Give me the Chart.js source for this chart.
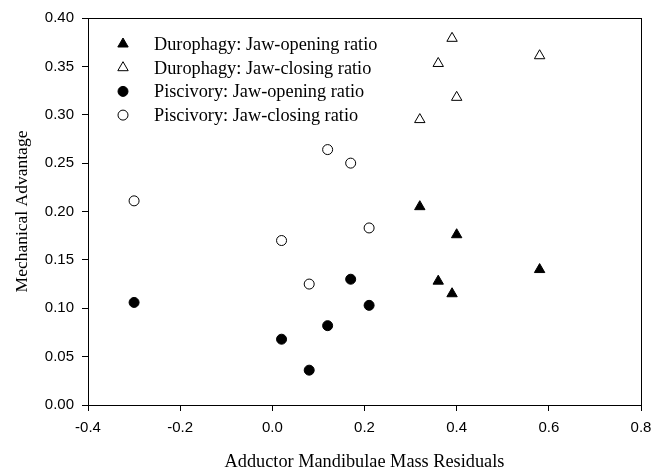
<!DOCTYPE html>
<html>
<head>
<meta charset="utf-8">
<script src="https://cdn.jsdelivr.net/npm/chart.js@4/dist/chart.umd.min.js"></script>
<style>
  html, body { margin: 0; padding: 0; background: #fff; }
</style>
</head>
<body>
<canvas id="chartScatter" width="662" height="471"></canvas>
<script>
  "use strict";

  var seriesNames = [
    "Durophagy: Jaw-opening ratio",
    "Durophagy: Jaw-closing ratio",
    "Piscivory: Jaw-opening ratio",
    "Piscivory: Jaw-closing ratio"
  ];

  var duroX = [0.32, 0.40, 0.36, 0.39, 0.58];
  var duroOpening = [0.205, 0.176, 0.128, 0.115, 0.140];
  var duroClosingX = [0.39, 0.36, 0.40, 0.32, 0.58];
  var duroClosing = [0.379, 0.353, 0.318, 0.295, 0.361];

  var pisciX = [-0.30, 0.02, 0.08, 0.12, 0.17, 0.21];
  var pisciOpening = [0.106, 0.068, 0.036, 0.082, 0.130, 0.103];
  var pisciClosing = [0.211, 0.170, 0.125, 0.264, 0.250, 0.183];

  function pairs(xs, ys) {
    return xs.map(function(x, i) { return { x: x, y: ys[i] }; });
  }

  // box around the plot area + legend inside it
  var boxAndLegend = {
    id: "boxAndLegend",
    afterDraw: function(chart) {
      var ctx = chart.ctx, a = chart.chartArea;
      ctx.save();
      ctx.strokeStyle = "#000";
      ctx.lineWidth = 1;
      ctx.strokeRect(Math.round(a.left) + 0.5, Math.round(a.top) + 0.5,
                     Math.round(a.right - a.left), Math.round(a.bottom - a.top));

      ctx.font = "18.3px 'Liberation Serif', 'Times New Roman', serif";
      ctx.textBaseline = "middle";
      chart.data.datasets.forEach(function(ds, i) {
        var y = 44 + i * 23.7;
        ctx.strokeStyle = "#000";
        ctx.fillStyle = ds.backgroundColor;
        ctx.lineWidth = 1;
        Chart.helpers.drawPoint(ctx, { pointStyle: ds.pointStyle, radius: ds.pointRadius, borderWidth: 1 }, 123, y);
        ctx.fillStyle = "#000";
        ctx.fillText(ds.label, 154, y + 1);
      });
      ctx.restore();
    }
  };

  var ctx = document.getElementById("chartScatter").getContext("2d");

  var myChart = new Chart(ctx, {
    type: "scatter",
    data: {
      datasets: [{
        label: seriesNames[0],
        data: pairs(duroX, duroOpening),
        pointStyle: "triangle",
        pointRadius: 6,
        backgroundColor: "#000",
        borderColor: "#000",
        borderWidth: 1
      }, {
        label: seriesNames[1],
        data: pairs(duroClosingX, duroClosing),
        pointStyle: "triangle",
        pointRadius: 6,
        backgroundColor: "#fff",
        borderColor: "#000",
        borderWidth: 1
      }, {
        label: seriesNames[2],
        data: pairs(pisciX, pisciOpening),
        pointStyle: "circle",
        pointRadius: 5,
        backgroundColor: "#000",
        borderColor: "#000",
        borderWidth: 1
      }, {
        label: seriesNames[3],
        data: pairs(pisciX, pisciClosing),
        pointStyle: "circle",
        pointRadius: 5,
        backgroundColor: "#fff",
        borderColor: "#000",
        borderWidth: 1
      }]
    },
    options: {
      responsive: false,
      animation: false,
      layout: { padding: { top: 18, right: 21, left: 0, bottom: 0 } },
      plugins: {
        legend: { display: false },
        tooltip: { enabled: false }
      },
      scales: {
        x: {
          type: "linear",
          min: -0.4,
          max: 0.8,
          afterFit: function(s) { s.height = 66; },
          grid: { display: true, drawOnChartArea: false, drawTicks: true, tickLength: 6, color: "#000" },
          border: { display: true, color: "#000" },
          ticks: {
            stepSize: 0.2,
            color: "#000",
            padding: 8,
            font: { family: "'Liberation Sans', Arial, sans-serif", size: 15 },
            callback: function(v) { return v.toFixed(1); }
          },
          title: {
            display: true,
            text: "Adductor Mandibulae Mass Residuals",
            color: "#000",
            padding: { top: 0, bottom: 0 },
            font: { family: "'Liberation Serif', 'Times New Roman', serif", size: 18.3, lineHeight: 1 }
          }
        },
        y: {
          min: 0,
          max: 0.40,
          afterFit: function(s) { s.width = 88; },
          grid: { display: true, drawOnChartArea: false, drawTicks: true, tickLength: 6, color: "#000" },
          border: { display: true, color: "#000" },
          ticks: {
            stepSize: 0.05,
            color: "#000",
            padding: 8,
            font: { family: "'Liberation Sans', Arial, sans-serif", size: 15 },
            callback: function(v) { return v.toFixed(2); }
          },
          title: {
            display: true,
            text: "Mechanical Advantage",
            color: "#000",
            padding: { top: 12, bottom: 0 },
            font: { family: "'Liberation Serif', 'Times New Roman', serif", size: 17.5 }
          }
        }
      }
    },
    plugins: [boxAndLegend]
  });
</script>
</body>
</html>
